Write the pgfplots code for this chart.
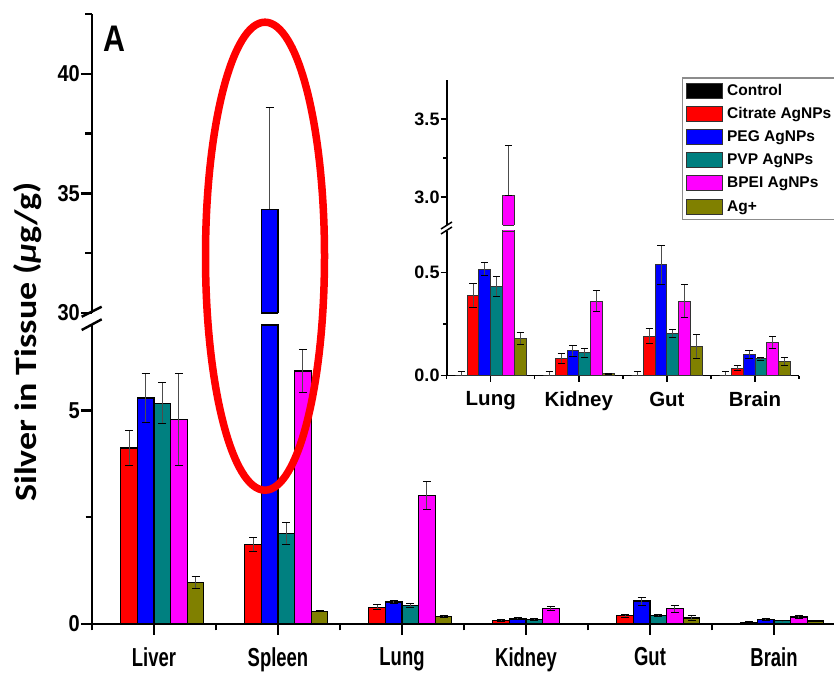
\documentclass[border=0pt]{standalone}
\usepackage{pgfplots}
\pgfplotsset{compat=1.18}
\usepackage{pgfplotstable}
\usepackage{fontspec}
\setmainfont{Liberation Sans}
\newfontfamily\tickfont[FakeStretch=0.87]{Liberation Sans}
\newfontfamily\xlabfont[FakeStretch=0.71]{Liberation Sans}
\newfontfamily\labfont[FakeStretch=1.16]{Carlito}
\newfontfamily\Afont[FakeStretch=0.82]{Liberation Sans}

\definecolor{cRed}{RGB}{255,0,0}
\definecolor{cBlue}{RGB}{0,0,255}
\definecolor{cTeal}{RGB}{0,128,128}
\definecolor{cMag}{RGB}{255,0,255}
\definecolor{cOlive}{RGB}{128,128,0}

% x: 0 Liver, 1 Spleen, 2 Lung, 3 Kidney, 4 Gut, 5 Brain
\pgfplotstableread{
x y ep em
0 0 0.02 0.02
1 0 0.02 0.02
2 0 0.02 0.02
3 0 0.02 0.02
4 0 0.02 0.02
5 0 0.02 0.02
}\ctrl
\pgfplotstableread{
x y ep em
0 4.12 0.40 0.40
1 1.86 0.17 0.17
2 0.387 0.058 0.058
3 0.084 0.024 0.024
4 0.192 0.037 0.037
5 0.036 0.012 0.012
}\cit
\pgfplotstableread{
x y ep em
0 5.29 0.58 0.58
1 34.33 4.28 0
2 0.516 0.033 0.033
3 0.120 0.025 0.025
4 0.537 0.094 0.094
5 0.102 0.021 0.021
}\peg
\pgfplotstableread{
x y ep em
0 5.17 0.48 0.48
1 2.12 0.26 0.26
2 0.433 0.049 0.049
3 0.111 0.023 0.023
4 0.205 0.019 0.019
5 0.081 0.008 0.008
}\pvp
\pgfplotstableread{
x y ep em emi
0 4.79 1.07 1.07 1.07
1 5.92 0.50 0.50 0.50
2 3.008 0.322 0.322 0
3 0.361 0.052 0.052 0.052
4 0.361 0.081 0.081 0.081
5 0.162 0.028 0.028 0.028
}\bpei
\pgfplotstableread{
x y ep em
0 0.97 0.14 0.14
1 0.30 0.01 0.01
2 0.181 0.029 0.029
3 0.010 0.003 0.003
4 0.140 0.058 0.058
5 0.068 0.018 0.018
}\agp

\pgfplotsset{
  common/.style={
    scale only axis, anchor=south west, ybar=0pt, xmin=-0.5,
    clip mode=individual,
    /pgf/number format/assume math mode=true,
    error bars/y dir=both, error bars/y explicit,
  },
  mainax/.style={common, width=744bp, height=299bp, xmax=5.5, bar width=16.6bp,
    axis line style={line width=2.6bp, black},
    tick style={line width=2.4bp, black},
    major tick length=11bp, minor tick length=6.5bp,
    yticklabel style={font=\tickfont\bfseries\fontsize{23bp}{23bp}\selectfont, inner sep=0pt, anchor=east},
    error bars/error bar style={line width=1bp, black!70},
    error bars/error mark options={rotate=90, mark size=4bp, line width=1bp, black},
  },
  insetax/.style={common, width=352.3bp, xmax=3.5, bar width=11.8bp,
    restrict x to domain=-0.6:3.6,
    axis line style={line width=1.6bp, black},
    tick style={line width=1.4bp, black},
    major tick length=6bp, minor tick length=3.5bp,
    yticklabel style={font=\bfseries\fontsize{18bp}{18bp}\selectfont, inner sep=0pt, anchor=east,
      /pgf/number format/.cd, fixed, fixed zerofill, precision=1},
    error bars/error bar style={line width=0.9bp, black!70},
    error bars/error mark options={rotate=90, mark size=3.6bp, line width=0.9bp, black},
  },
  mb/.style={fill=#1, draw=black, line width=1.3bp},
  ib/.style={fill=#1, draw=black!80, line width=0.9bp,
    legend image code/.code={\draw[fill=#1, draw=black!80, line width=1bp] (0bp,-7.5bp) rectangle (35.7bp,7.5bp);}},
}

\begin{document}
\begin{tikzpicture}[x=1bp,y=1bp]
\useasboundingbox (0,0) rectangle (834,673);

% ---------- main, lower segment ----------
\begin{axis}[mainax, at={(92bp,49bp)}, ymin=0, ymax=7,
  axis x line*=bottom, axis y line*=left,
  xtick={0,...,5}, xticklabels={Liver,Spleen,Lung,Kidney,Gut,Brain},
  minor xtick={-0.5,0.5,...,5.5},
  ytick={0,5}, minor ytick={2.5},
  xticklabel style={font=\xlabfont\bfseries\fontsize{26bp}{26bp}\selectfont, inner sep=0pt, anchor=north},
  xticklabel shift=12bp, yticklabel shift=1bp,
  tick align=outside]
\addplot[mb=black] table[x=x,y=y,y error plus=ep,y error minus=em] {\ctrl};
\addplot[mb=cRed] table[x=x,y=y,y error plus=ep,y error minus=em] {\cit};
\addplot[mb=cBlue] table[x=x,y=y,y error plus=ep,y error minus=em] {\peg};
\addplot[mb=cTeal] table[x=x,y=y,y error plus=ep,y error minus=em] {\pvp};
\addplot[mb=cMag] table[x=x,y=y,y error plus=ep,y error minus=em] {\bpei};
\addplot[mb=cOlive] table[x=x,y=y,y error plus=ep,y error minus=em] {\agp};
\draw[line width=1.3bp] (axis cs:0.8661,7) -- (axis cs:1,7);
\end{axis}

% ---------- main, upper segment (only the Spleen PEG bar reaches it) ----------
\begin{axis}[mainax, at={(92bp,360bp)}, ymin=30, ymax=42.5,
  axis x line=none, axis y line*=left, xtick=\empty,
  ytick={30,35,40}, minor ytick={32.5,37.5,42.5}, yticklabel shift=1bp,
  tick align=outside]
\addplot[mb=cBlue, bar shift=-8.3bp, restrict y to domain=29:100] table[x=x,y=y,y error plus=ep,y error minus=em] {\peg};
\draw[line width=1.3bp] (axis cs:0.8661,30) -- (axis cs:1,30);
\end{axis}

% ---------- inset, lower segment ----------
\begin{axis}[insetax, at={(446.7bp,297.3bp)}, height=144.7bp, ymin=0, ymax=0.7,
  axis x line*=bottom, axis y line*=left,
  xtick={0,...,3}, xticklabels={Lung,Kidney,Gut,Brain},
  minor xtick={-0.5,0.5,...,3.5},
  ytick={0,0.5}, minor ytick={0.25},
  xticklabel style={font=\bfseries\fontsize{20.5bp}{20.5bp}\selectfont, inner sep=0pt, anchor=north},
  xticklabel shift=10bp, yticklabel shift=1bp,
  tick align=outside]
\addplot[ib=black] table[x expr=\thisrow{x}-2,y=y,y error plus=ep,y error minus=em] {\ctrl};
\addplot[ib=cRed] table[x expr=\thisrow{x}-2,y=y,y error plus=ep,y error minus=em] {\cit};
\addplot[ib=cBlue] table[x expr=\thisrow{x}-2,y=y,y error plus=ep,y error minus=em] {\peg};
\addplot[ib=cTeal] table[x expr=\thisrow{x}-2,y=y,y error plus=ep,y error minus=em] {\pvp};
\addplot[ib=cMag] table[x expr=\thisrow{x}-2,y=y,y error plus=ep,y error minus=emi] {\bpei};
\addplot[ib=cOlive] table[x expr=\thisrow{x}-2,y=y,y error plus=ep,y error minus=em] {\agp};
\draw[line width=0.9bp, black!80] (axis cs:0.134,0.7) -- (axis cs:0.268,0.7);
\end{axis}

% ---------- inset, upper segment (only Lung BPEI reaches it) ----------
\begin{axis}[insetax, at={(446.7bp,448bp)}, height=145bp, ymin=2.82, ymax=3.75,
  axis x line=none, axis y line*=left, xtick=\empty,
  ytick={3,3.5}, minor ytick={3.25}, yticklabel shift=1bp,
  legend style={at={(0.667,1.0186)}, anchor=north west, draw=black!45, line width=1.5bp, fill=white,
    font=\bfseries\fontsize{15.5bp}{15.5bp}\selectfont, inner xsep=3.5bp, inner ysep=1.5bp, row sep=0bp,
    nodes={inner sep=0bp, text height=13bp, text depth=4bp, minimum height=23.1bp}, column sep=4.5bp},
  legend cell align=left,
  tick align=outside]
\addlegendimage{ib=black}
\addlegendentry{Control}
\addlegendimage{ib=cRed}
\addlegendentry{Citrate AgNPs}
\addlegendimage{ib=cBlue}
\addlegendentry{PEG AgNPs}
\addlegendimage{ib=cTeal}
\addlegendentry{PVP AgNPs}
\addplot[ib=cMag, bar shift=17.7bp, restrict y to domain=2.5:10] table[x expr=\thisrow{x}-2,y=y,y error plus=ep,y error minus=emi] {\bpei};
\addlegendentry{BPEI AgNPs}
\addlegendimage{ib=cOlive}
\addlegendentry{Ag+}
\draw[line width=0.9bp, black!80] (axis cs:0.134,2.82) -- (axis cs:0.268,2.82);
\end{axis}

% break marks
\draw[line width=2.4bp] (81.7,356.3) -- (101.7,366.3);
\draw[line width=2.4bp] (81.7,343) -- (101.7,353.7);
\draw[line width=1.5bp] (441,444) -- (452,451);
\draw[line width=1.5bp] (441,439) -- (452,446);

% annotations
\draw[cRed, line width=7.5bp] (265,416.8) ellipse [x radius=59.5, y radius=234];
\node[font=\Afont\bfseries\fontsize{37bp}{37bp}\selectfont, anchor=base west, inner sep=0pt] at (103,621.3) {A};
\node[rotate=90, font=\labfont\bfseries\fontsize{31bp}{31bp}\selectfont, anchor=base west, inner sep=0pt]
  at (36,171) {Silver in Tissue ({\itshape µ}g/g)};
\end{tikzpicture}
\end{document}
